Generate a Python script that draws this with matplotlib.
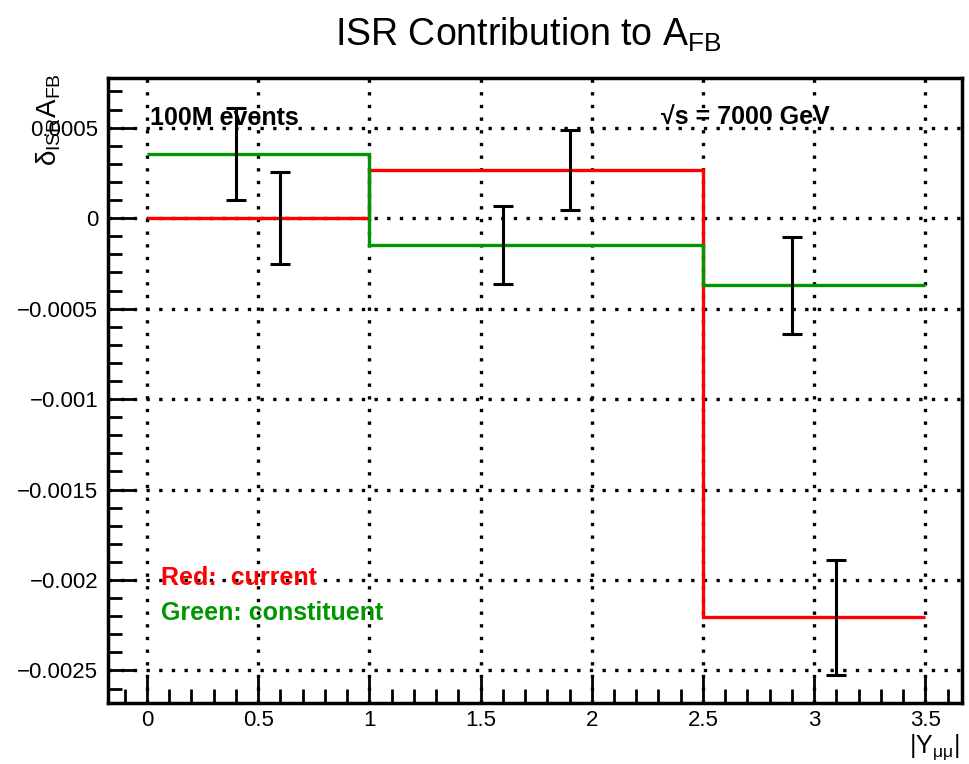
import matplotlib
matplotlib.use("Agg")
import matplotlib.pyplot as plt
from matplotlib.ticker import MultipleLocator, FuncFormatter

# Data
bin_edges = [0.0, 1.0, 2.5, 3.5]
red_current = [0.0, 0.000265, -0.002207]
green_constituent = [0.000354, -0.000149, -0.00037]

err_x = [0.4, 0.6, 1.6, 1.9, 2.9, 3.1]
err_y = [0.000354, 0.0, -0.000149, 0.000265, -0.00037, -0.002207]
err_e = [0.000254, 0.000254, 0.000216, 0.000221, 0.000268, 0.000318]

x_ticks = [0, 0.5, 1, 1.5, 2, 2.5, 3, 3.5]
y_ticks = [-0.0025, -0.002, -0.0015, -0.001, -0.0005, 0, 0.0005]

plt.rcParams['font.family'] = ['Liberation Sans', 'DejaVu Sans']
plt.rcParams['mathtext.fontset'] = 'custom'
plt.rcParams['mathtext.rm'] = 'Liberation Sans'
plt.rcParams['mathtext.it'] = 'Liberation Sans'

NARROW = ['Liberation Sans Narrow', 'Liberation Sans', 'DejaVu Sans']

fig = plt.figure(figsize=(9.69, 7.64), dpi=100)
ax = fig.add_axes([0.1115, 0.0798, 0.8813, 0.8182])

GREEN = '#009600'
ax.stairs(red_current, bin_edges, color='#ff0000', lw=2.4, baseline=None, zorder=3)
ax.stairs(green_constituent, bin_edges, color=GREEN, lw=2.4, baseline=None, zorder=3)
ax.errorbar(err_x, err_y, yerr=err_e, fmt='none', ecolor='black', elinewidth=2.2,
            capsize=7, capthick=2.2, zorder=4)

ax.set_xlim(-0.175, 3.665)
ax.set_ylim(-0.00268, 0.000775)
ax.set_xticks(x_ticks)
ax.set_yticks(y_ticks)

def fmt_x(v, pos):
    return '%g' % v
def fmt_y(v, pos):
    if abs(v) < 1e-12:
        return '0'
    s = ('%.4f' % v).rstrip('0')
    return s.replace('-', '\u2212')
ax.xaxis.set_major_formatter(FuncFormatter(fmt_x))
ax.yaxis.set_major_formatter(FuncFormatter(fmt_y))
ax.xaxis.set_minor_locator(MultipleLocator(0.1))
ax.yaxis.set_minor_locator(MultipleLocator(0.0001))

ax.tick_params(which='both', direction='in', top=False, right=False, width=2.0, labelsize=16)
ax.tick_params(which='major', length=19, pad=7)
ax.tick_params(axis='x', which='major', pad=5)
ax.tick_params(which='minor', length=10)
for sp in ax.spines.values():
    sp.set_linewidth(2.5)

ax.grid(True, which='major', color='black', linestyle=(0, (1, 2.8)), linewidth=2.4, zorder=1)
ax.set_axisbelow(True)

fig.text(0.545, 0.955, r'ISR Contribution to A$_{\rm FB}$', ha='center', va='center', fontsize=27)

ax.text(0.015, 0.000555, '100M events', fontsize=18, fontweight='bold', ha='left', va='center', family=NARROW)
ax.text(2.31, 0.000555, '\u221as = 7000 GeV', fontsize=18, fontweight='bold', ha='left', va='center', family=NARROW)
ax.text(0.065, -0.00199, 'Red:  current', fontsize=18, fontweight='bold', color='#ff0000', ha='left', va='center', family=NARROW)
ax.text(0.065, -0.00218, 'Green: constituent', fontsize=18, fontweight='bold', color=GREEN, ha='left', va='center', family=NARROW)

fig.text(0.05, 0.905, r'$\delta_{\rm ISR}A_{\rm FB}$', rotation=90, ha='center', va='top', fontsize=20)
fig.text(0.99, 0.002, r'$|Y_{\mu\mu}|$', ha='right', va='bottom', fontsize=18)

fig.savefig('out.png', dpi=100)
